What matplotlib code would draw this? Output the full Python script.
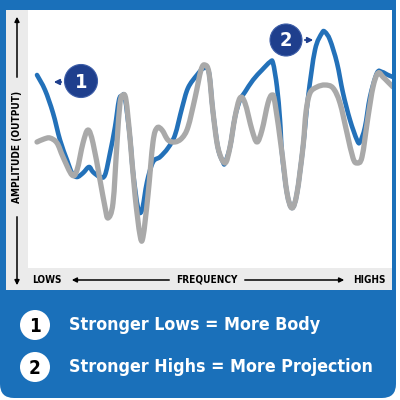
import matplotlib.pyplot as plt
from matplotlib import font_manager
from matplotlib.patches import Rectangle, Circle, FancyBboxPatch, PathPatch
from matplotlib.path import Path

# curve readings: frequency (px from left of plot), amplitude (px up from bottom strip)
freq_blue = [8, 16, 24, 31, 38, 43, 48, 54, 60, 64, 71, 76, 81, 86, 90, 93, 96, 101, 104, 109,
             113, 118, 124, 131, 139, 146, 153, 159, 168, 175, 180, 184, 189, 194, 196, 201, 206,
             211, 216, 224, 233, 241, 244, 248, 251, 253, 258, 263, 268, 274, 279, 286, 293, 296,
             301, 308, 314, 321, 328, 331, 336, 341, 348, 353, 359, 364]
amp_blue = [193, 178, 155, 128, 108, 95, 91, 95, 101, 96, 91, 93, 115, 141, 168, 172, 170, 130, 96, 60,
            58, 86, 106, 111, 120, 133, 160, 180, 193, 200, 195, 156, 120, 106, 105, 121, 151,
            168, 176, 188, 198, 206, 205, 181, 148, 115, 75, 60, 75, 121, 170, 218, 235, 236,
            228, 205, 175, 148, 128, 126, 141, 171, 195, 196, 193, 191]

freq_gray = [8, 15, 21, 28, 34, 43, 48, 54, 59, 64, 71, 76, 79, 84, 88, 91, 94, 97, 101, 106,
             111, 114, 119, 124, 128, 133, 139, 146, 153, 159, 166, 172, 176, 180, 184, 189, 196,
             201, 206, 211, 216, 223, 228, 233, 239, 243, 246, 253, 258, 263, 268, 274, 277, 281,
             288, 296, 304, 311, 318, 324, 328, 333, 339, 344, 349, 354, 359, 364]
amp_gray = [126, 129, 130, 125, 111, 93, 98, 125, 138, 125, 88, 61, 50, 65, 125, 165, 173, 168, 130, 73,
            33, 31, 73, 126, 140, 138, 128, 126, 130, 141, 170, 198, 203, 195, 156, 120, 105,
            121, 151, 170, 165, 138, 126, 138, 165, 173, 165, 115, 75, 60, 75, 121, 156, 175,
            181, 183, 180, 165, 135, 110, 105, 111, 151, 181, 195, 191, 186, 181]

y_label = "AMPLITUDE (OUTPUT)"
x_labels = ["LOWS", "FREQUENCY", "HIGHS"]
callouts = ["1", "2"]
notes = ["Stronger Lows = More Body", "Stronger Highs = More Projection"]

FRAME = "#1a70ba"
NAVY = "#1f3f8d"
LINE_BLUE = "#2371b9"
LINE_GRAY = "#a9a9a9"
STRIP = "#ebebeb"

names = {f.name for f in font_manager.fontManager.ttflist}
if "Liberation Sans Narrow" in names:
    FONT = dict(family="Liberation Sans Narrow", weight="bold")
    scale = 1.0
else:
    FONT = dict(family="DejaVu Sans", stretch="condensed", weight="bold")
    scale = 0.8


def smooth_path(xs, ys):
    # bezier path through the read points (catmull-rom handles)
    pts = list(zip(xs, ys))
    verts, codes = [pts[0]], [Path.MOVETO]
    for i in range(len(pts) - 1):
        p0 = pts[i - 1] if i > 0 else pts[i]
        p1, p2 = pts[i], pts[i + 1]
        p3 = pts[i + 2] if i + 2 < len(pts) else p2
        c1 = (p1[0] + (p2[0] - p0[0]) / 6, p1[1] + (p2[1] - p0[1]) / 6)
        c2 = (p2[0] - (p3[0] - p1[0]) / 6, p2[1] - (p3[1] - p1[1]) / 6)
        verts += [c1, c2, p2]
        codes += [Path.CURVE4] * 3
    return Path(verts, codes)


fig = plt.figure(figsize=(4, 4), dpi=100)

# frame and background in pixel coordinates
bg = fig.add_axes([0, 0, 1, 1])
bg.set_xlim(0, 400)
bg.set_ylim(400, 0)
bg.axis("off")
bg.add_patch(FancyBboxPatch((0, 0), 396, 398, boxstyle="round,pad=0,rounding_size=14",
                            fc=FRAME, ec="none"))
bg.add_patch(Rectangle((0, 0), 396, 40, fc=FRAME, ec="none"))
bg.add_patch(Rectangle((6, 10), 386, 280, fc="white", ec="none"))
bg.add_patch(Rectangle((6, 10), 22, 280, fc=STRIP, ec="none"))
bg.add_patch(Rectangle((28, 268), 364, 22, fc=STRIP, ec="none"))

# axis captions
bg.text(17, 147, y_label, rotation=90, ha="center", va="center", fontsize=9 * scale, **FONT)
arrow = dict(arrowstyle="-|>", color="black", lw=1.1, mutation_scale=7)
bg.annotate("", xy=(17, 14), xytext=(17, 80), arrowprops=arrow)
bg.annotate("", xy=(17, 288), xytext=(17, 214), arrowprops=arrow)

bg.text(32, 280, x_labels[0], ha="left", va="center", fontsize=9 * scale, **FONT)
bg.text(207, 280, x_labels[1], ha="center", va="center", fontsize=9 * scale, **FONT)
bg.text(386, 280, x_labels[2], ha="right", va="center", fontsize=9 * scale, **FONT)
bg.annotate("", xy=(69, 280), xytext=(172, 280), arrowprops=arrow)
bg.annotate("", xy=(347, 280), xytext=(242, 280), arrowprops=arrow)

# the response curves
ax = fig.add_axes([29 / 400, 132 / 400, 363 / 400, 258 / 400])
ax.set_xlim(0, 363)
ax.set_ylim(0, 258)
ax.axis("off")
ax.add_patch(PathPatch(smooth_path(freq_blue, amp_blue), fill=False, ec=LINE_BLUE, lw=3.3,
                       capstyle="round", joinstyle="round", zorder=2))
ax.add_patch(PathPatch(smooth_path(freq_gray, amp_gray), fill=False, ec=LINE_GRAY, lw=3.8,
                       capstyle="round", joinstyle="round", zorder=3))

# callouts and legend on top
top = fig.add_axes([0, 0, 1, 1])
top.set_xlim(0, 400)
top.set_ylim(400, 0)
top.axis("off")
navy_arrow = dict(arrowstyle="-|>", color=NAVY, lw=1.3, mutation_scale=8)
top.add_patch(Circle((81, 81), 16.5, fc=NAVY, ec="#3d5ea8", lw=0.8))
top.text(81, 82, callouts[0], color="white", ha="center", va="center", fontsize=18 * scale, **FONT)
top.annotate("", xy=(51, 82), xytext=(64, 82), arrowprops=navy_arrow)
top.add_patch(Circle((286, 40), 16, fc=NAVY, ec="#3d5ea8", lw=0.8))
top.text(286, 41, callouts[1], color="white", ha="center", va="center", fontsize=18 * scale, **FONT)
top.annotate("", xy=(316, 40), xytext=(302, 40), arrowprops=navy_arrow)

for yc, num, note in zip([325, 367], callouts, notes):
    top.add_patch(Circle((35, yc), 15, fc="white", ec="none"))
    top.text(35, yc + 1, num, color="black", ha="center", va="center", fontsize=17 * scale, **FONT)
    top.text(69, yc, note, color="white", ha="left", va="center", fontsize=16 * scale, **FONT)

fig.savefig("out.png", dpi=100)
